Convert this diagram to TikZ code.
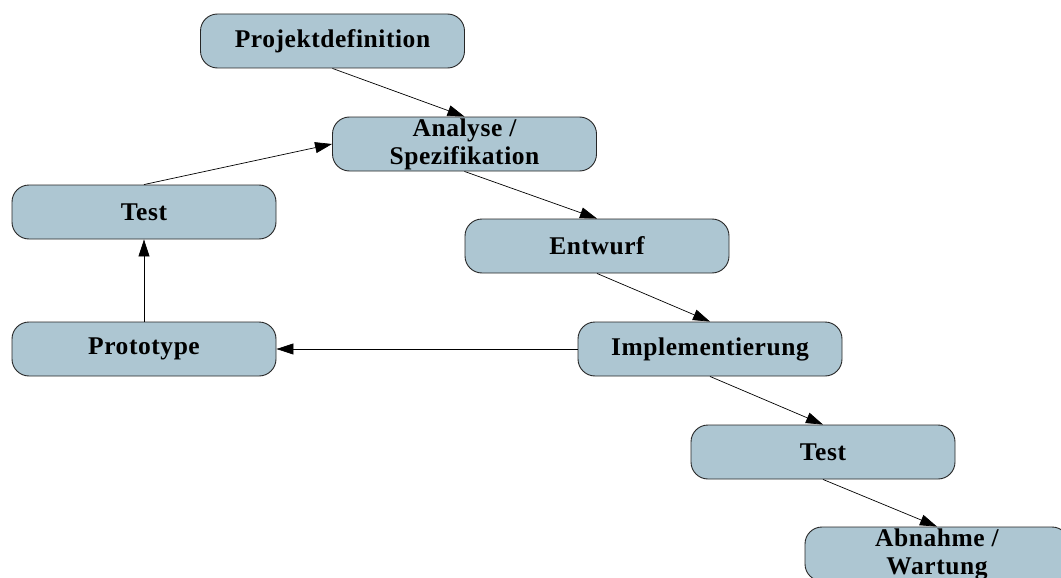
\documentclass[tikz,border=0pt]{standalone}
\usepackage{fontspec}
\setmainfont{Liberation Serif}
\usetikzlibrary{arrows.meta}
\begin{document}
\begin{tikzpicture}[x=1pt,y=-1pt,
  phase/.style={draw=black!85, line width=0.9pt, fill={rgb,255:red,173;green,198;blue,210},
    rounded corners=17pt, minimum width=264pt, minimum height=54pt, inner sep=0pt,
    align=center, font=\fontsize{25.5}{28}\selectfont\bfseries\addfontfeatures{LetterSpace=2.2}},
  flow/.style={draw=black, line width=0.7pt, -{Triangle[length=17pt,width=11pt]}}]
  \useasboundingbox (0,0) rectangle (1061,578);
  \clip (0,0) rectangle (1061,578);
  \node[phase] (def)  at (332.5,41)  {Projektdefinition};
  \node[phase] (ana)  at (464.5,144) {Analyse /\\Spezifikation};
  \node[phase] (tst1) at (144,212)   {Test};
  \node[phase] (ent)  at (597,246)   {Entwurf};
  \node[phase] (pro)  at (144,349)   {Prototype};
  \node[phase] (imp)  at (710,349)   {Implementierung};
  \node[phase] (tst2) at (823,452)   {Test};
  \node[phase] (abn)  at (937,554)   {Abnahme /\\Wartung};
  \draw[flow] (def.south) -- (ana.north);
  \draw[flow] (ana.south) -- (ent.north);
  \draw[flow] (ent.south) -- (imp.north);
  \draw[flow] (imp.south) -- (tst2.north);
  \draw[flow] (tst2.south) -- (abn.north);
  \draw[flow] (imp.west) -- (pro.east);
  \draw[flow] (pro.north) -- (tst1.south);
  \draw[flow] (tst1.north) -- (ana.west);
\end{tikzpicture}
\end{document}
